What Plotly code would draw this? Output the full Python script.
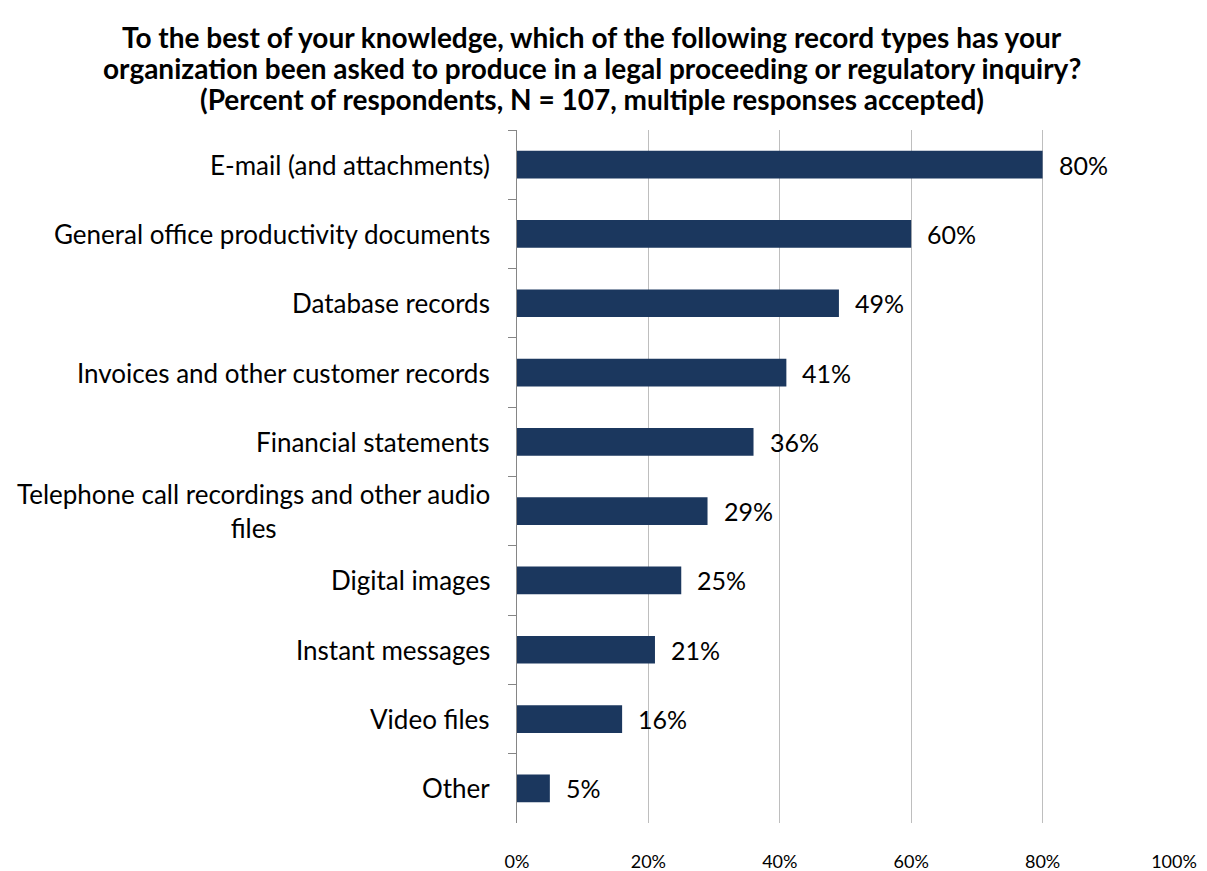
import plotly.graph_objects as go

categories = [
    "E-mail (and attachments)",
    "General office productivity documents",
    "Database records",
    "Invoices and other customer records",
    "Financial statements",
    "Telephone call recordings and other audio<br>files",
    "Digital images",
    "Instant messages",
    "Video files",
    "Other",
]
values = [80, 60, 49, 41, 36, 29, 25, 21, 16, 5]
x_ticks = [0, 20, 40, 60, 80, 100]
x_tick_labels = ["0%", "20%", "40%", "60%", "80%", "100%"]

title_lines = [
    "To the best of your knowledge, which of the following record types has your",
    "organization been asked to produce in a legal proceeding or regulatory inquiry?",
    "(Percent of respondents, N = 107, multiple responses accepted)",
]

FONT = "Lato, Carlito, Calibri, sans-serif"

fig = go.Figure()
fig.add_trace(go.Bar(
    x=values, y=categories, orientation="h",
    marker=dict(color="#1B375E", line=dict(width=0)),
    width=0.4,
    hoverinfo="skip",
))

# data labels
for v, c in zip(values, categories):
    fig.add_annotation(x=v, y=c, text=f"{v}%", showarrow=False,
                       xanchor="left", xshift=14, yshift=0,
                       font=dict(family=FONT, size=25, color="#000000"))

# category labels (center-aligned for wrapped text)
for c in categories:
    fig.add_annotation(xref="paper", x=0, y=c, text=c, showarrow=False,
                       xanchor="right", xshift=-25, align="center",
                       font=dict(family=FONT, size=26, color="#000000"))

# title lines
for i, line in enumerate(title_lines):
    fig.add_annotation(text=line, xref="paper", yref="paper",
                       x=0.114, y=1, xanchor="center", yanchor="middle",
                       yshift=93 - 31 * i,
                       showarrow=False,
                       font=dict(family=FONT, size=28, color="#000000", weight="bold"))

fig.update_layout(
    width=1207, height=871,
    margin=dict(l=517, r=33, t=130, b=48),
    paper_bgcolor="white", plot_bgcolor="white",
    showlegend=False,
    xaxis=dict(range=[0, 100], tickvals=x_ticks, ticktext=x_tick_labels,
               showgrid=True, gridcolor="#BEBEBE", gridwidth=1,
               zeroline=False, showline=False, ticks="",
               ticklabelstandoff=26, automargin=False,
               tickfont=dict(family=FONT, size=18, color="#000000")),
    yaxis=dict(autorange="reversed", showline=True, linecolor="#868686", linewidth=1,
               ticks="outside", tickson="boundaries", ticklen=8, tickcolor="#868686",
               showticklabels=False, automargin=False, showgrid=False),
)

fig.write_html("out.html")
